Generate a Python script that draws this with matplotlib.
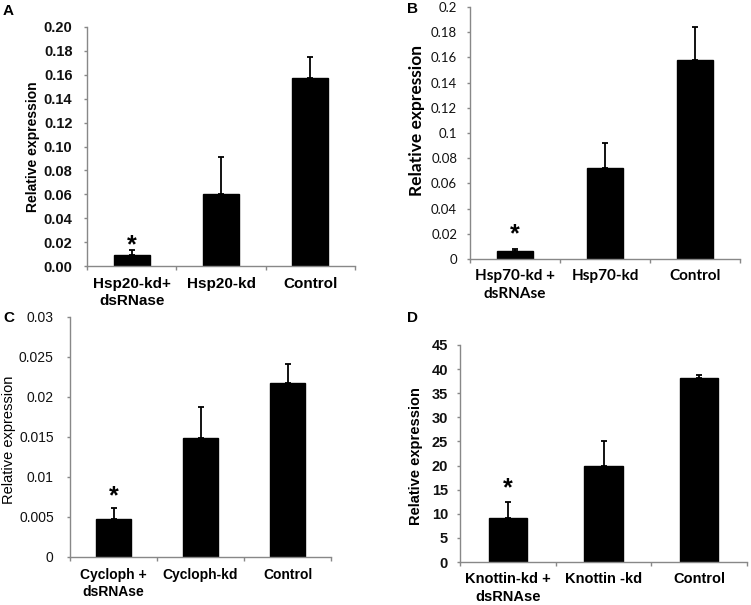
import matplotlib
matplotlib.use("Agg")
import matplotlib.pyplot as plt
from matplotlib.ticker import FixedLocator, FuncFormatter
import numpy as np

W, H = 751, 605

# ---- data ----
A_labels = ["Hsp20-kd+\ndsRNase", "Hsp20-kd", "Control"]
A_vals = [0.009, 0.060, 0.157]
A_err = [0.004, 0.031, 0.018]
A_ticks = [0.00, 0.02, 0.04, 0.06, 0.08, 0.10, 0.12, 0.14, 0.16, 0.18, 0.20]

B_labels = ["Hsp70-kd +\ndsRNAse", "Hsp70-kd", "Control"]
B_vals = [0.006, 0.072, 0.158]
B_err = [0.002, 0.020, 0.026]
B_ticks = [0, 0.02, 0.04, 0.06, 0.08, 0.1, 0.12, 0.14, 0.16, 0.18, 0.2]

C_labels = ["Cycloph +\ndsRNAse", "Cycloph-kd", "Control"]
C_vals = [0.0047, 0.0149, 0.0218]
C_err = [0.0014, 0.0038, 0.0023]
C_ticks = [0, 0.005, 0.01, 0.015, 0.02, 0.025, 0.03]

D_labels = ["Knottin-kd +\ndsRNAse", "Knottin -kd", "Control"]
D_vals = [9.1, 19.9, 38.2]
D_err = [3.3, 5.1, 0.5]
D_ticks = [0, 5, 10, 15, 20, 25, 30, 35, 40, 45]

fig = plt.figure(figsize=(W / 100, H / 100), dpi=100)
fig.patch.set_facecolor("white")


def px_axes(l, r, t, b):
    return fig.add_axes([l / W, (H - b) / H, (r - l) / W, (b - t) / H])


def fmt_general(v, pos):
    s = ("%.3f" % v).rstrip("0").rstrip(".")
    return s if s else "0"


def panel(ax, labels, vals, err, ticks, fmt, tick_font, tick_size, tick_weight,
          ypad, xl_font, xl_size, xpad, ylab_font, ylab_size, ylab_weight,
          ylab_coords, star_off):
    x = np.arange(len(vals))
    ax.bar(x, vals, width=0.4, color="black", edgecolor="black", zorder=2)
    ax.errorbar(x, vals, yerr=[np.zeros(len(err)), err], fmt="none",
                ecolor="black", elinewidth=1.3, capsize=2.5, capthick=1.3, zorder=3)
    ax.set_xlim(-0.5, 2.5)
    ax.set_ylim(ticks[0], ticks[-1])
    ax.yaxis.set_major_locator(FixedLocator(ticks))
    ax.yaxis.set_major_formatter(FuncFormatter(fmt))
    ax.set_xticks(x)
    ax.set_xticklabels(labels, fontfamily=xl_font, fontsize=xl_size,
                       fontweight="bold", linespacing=1.3)
    ax.set_xticks([-0.5, 0.5, 1.5, 2.5], minor=True)
    ax.tick_params(axis="x", which="major", length=0, pad=xpad)
    ax.tick_params(axis="x", which="minor", length=3, width=1, color="#888888",
                   direction="out")
    ax.tick_params(axis="y", length=2.2, width=1, color="#888888", direction="out",
                   pad=ypad)
    for t in ax.get_yticklabels():
        t.set_fontfamily(tick_font)
        t.set_fontsize(tick_size)
        t.set_fontweight(tick_weight)
        t.set_color("#111111")
    for s in ["top", "right"]:
        ax.spines[s].set_visible(False)
    for s in ["left", "bottom"]:
        ax.spines[s].set_color("#888888")
        ax.spines[s].set_linewidth(1.0)
    ax.set_ylabel("Relative expression", fontfamily=ylab_font, fontsize=ylab_size,
                  fontweight=ylab_weight)
    ax.yaxis.set_label_coords(*ylab_coords)
    ax.annotate("*", xy=(x[0], vals[0] + err[0]), xytext=(0, star_off),
                textcoords="offset points", ha="center", va="center",
                fontsize=18, fontweight="bold", fontfamily="Liberation Sans")


axA = px_axes(87, 355, 27, 266)
panel(axA, A_labels, A_vals, A_err, A_ticks, lambda v, p: "%.2f" % v,
      "Liberation Sans", 10.5, "bold", 8.3, "Liberation Sans", 11, 8,
      "Liberation Sans", 10, "bold", (-0.175, 0.5), 3.5)

axB = px_axes(470, 740, 7, 259)
panel(axB, B_labels, B_vals, B_err, B_ticks, fmt_general,
      "Lato", 9.5, "normal", 7, "Lato", 11, 7.5,
      "Lato", 12.5, "bold", (-0.167, 0.55), 10.5)

axC = px_axes(70, 331, 317, 557)
panel(axC, C_labels, C_vals, C_err, C_ticks, fmt_general,
      "Liberation Sans", 10, "normal", 9.5, "Liberation Sans", 10, 8,
      "Liberation Sans", 10.5, "normal", (-0.207, 0.49), 8.5)

axD = px_axes(460, 747, 345, 562)
panel(axD, D_labels, D_vals, D_err, D_ticks, lambda v, p: "%d" % v,
      "Liberation Sans", 10.5, "bold", 6.5, "Liberation Sans", 10.5, 7.5,
      "Liberation Sans", 10.5, "bold", (-0.129, 0.49), 10)

for lab, xp, yp in [("A", 3, 15), ("B", 407, 13), ("C", 3, 322), ("D", 407, 322)]:
    fig.text(xp / W, 1 - yp / H, lab, fontsize=11, fontweight="bold",
             fontfamily="Liberation Sans", va="baseline", ha="left")

fig.savefig("out.png", dpi=100, facecolor="white")
